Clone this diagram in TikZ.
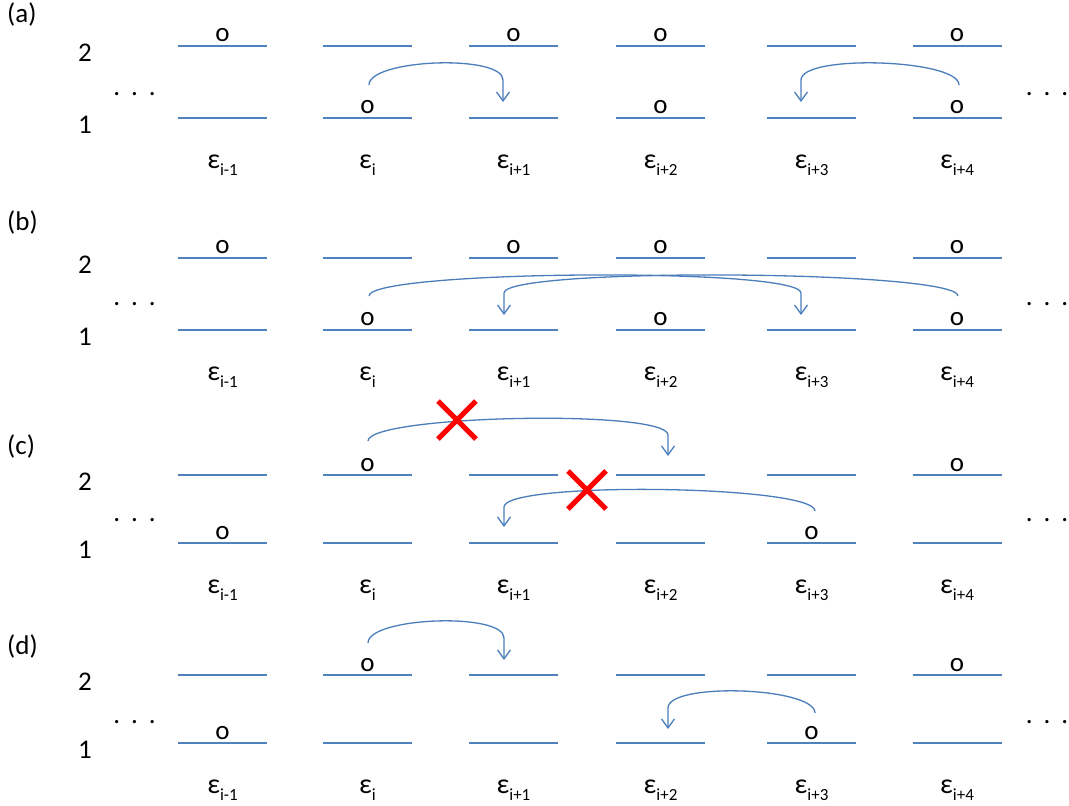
\documentclass[tikz,border=0pt]{standalone}
\usepackage{fontspec}
\setmainfont{Carlito}
\usetikzlibrary{arrows.meta}
\definecolor{lvl}{HTML}{4F81BD}
\definecolor{arr}{HTML}{4A7EBB}
\newcommand{\eps}[1]{{\fontsize{28}{28}\selectfont ε}\raisebox{-7pt}{\fontsize{17}{17}\selectfont #1}}
\begin{document}
\begin{tikzpicture}[x=1pt,y=-1pt,
  level/.style={draw=lvl, line width=1.8pt},
  txt/.style={font=\fontsize{27}{27}\selectfont, inner sep=0pt, anchor=base},
  hop/.style={draw=arr, line width=1.3pt, -{Straight Barb[length=9pt,width=13pt,line width=1.3pt]}},
  cross/.style={draw=red, line width=5pt}
]
\useasboundingbox (0,0) rectangle (1069,806);

% levels, energy labels, axis digits, dots
\foreach \ya/\yb/\p/\lb/\dy in {46/118/a/22/95, 258/330/b/230/305, 475/543/c/454/521, 675/743/d/654/723}{
  \foreach \x/\s [count=\k] in {222.5/i-1, 367.5/i, 513.5/i+1, 660.5/i+2, 811.5/i+3, 957/i+4}{
    \draw[level] ({\x-44.5},\ya) -- ({\x+44.5},\ya);
    \draw[level] ({\x-44.5},\yb) -- ({\x+44.5},\yb);
    \node[txt] (e\p\k) at (\x,\yb+50) {\eps{\s}};
  }
  \node[txt] (two\p) at (85,\ya+15) {2};
  \node[txt] (one\p) at (85,\yb+15) {1};
  \node[txt, anchor=base west] (lab\p) at (7,\lb) {(\p)};
  \node[txt] (dl\p) at (134.5,\dy) {.\hspace{11pt}.\hspace{11pt}.};
  \node[txt] (dr\p) at (1047,\dy) {.\hspace{11pt}.\hspace{11pt}.};
}

% occupation markers
\foreach \x/\y [count=\n] in {
  222.5/41.5, 513.5/41.5, 660.5/41.5, 957/41.5, 367.5/113.5, 660.5/113.5, 957/113.5,
  222.5/253.5, 513.5/253.5, 660.5/253.5, 957/253.5, 367.5/325.5, 660.5/325.5, 957/325.5,
  367.5/471, 957/471, 222.5/539, 811.5/539,
  367.5/671, 957/671, 222.5/739, 811.5/739}{
  \node[txt] (o\n) at (\x,\y) {o};
}

% arrows: start / bend / tip
\foreach \nm/\sx/\sy/\ex/\vy/\ty in {
  A1/369/85/503/80/102, A2/959/85/801/80/102,
  B1/369/296/801/293/315, B2/958/296/504/293/315,
  C1/368/441/668/435/456, C2/815/511/504/507/527,
  D1/368/643/504/638/660, D2/815/713/668/708/729}{
  \coordinate (s\nm) at (\sx,\sy);
  \coordinate (v\nm) at (\ex,\vy);
  \coordinate (t\nm) at (\ex,\ty);
  \draw[hop] (s\nm) .. controls +(0,-26) and +(0,-26) .. (v\nm) -- (t\nm);
}

% forbidden marks
\coordinate (x1) at (457,420);
\coordinate (x2) at (587,490);
\foreach \c in {x1,x2}{
  \draw[cross] (\c) +(-19,-19) -- +(19,19);
  \draw[cross] (\c) +(-19,19) -- +(19,-19);
}
\end{tikzpicture}
\end{document}
